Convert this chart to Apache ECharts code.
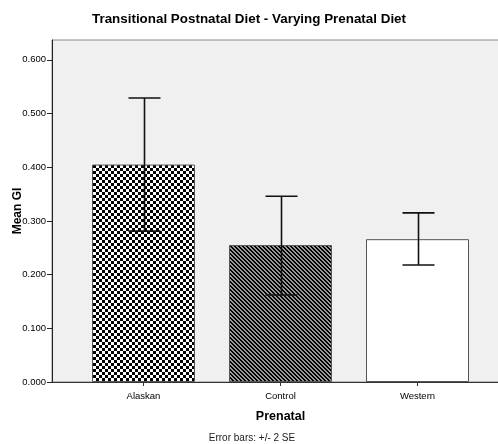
<!DOCTYPE html>
<html>
<head>
<meta charset="utf-8">
<script src="https://cdn.jsdelivr.net/npm/echarts@6/dist/echarts.min.js"></script>
<style>
html,body{margin:0;padding:0;background:#fff;}
#c{width:498px;height:444px;}
</style>
</head>
<body>
<div id="c"></div>
<script>
var categories = ['Alaskan', 'Control', 'Western'];
var meanGI = [0.405, 0.255, 0.266];
var errLow = [0.281, 0.162, 0.218];
var errHigh = [0.529, 0.346, 0.315];
var yTicks = [0, 0.1, 0.2, 0.3, 0.4, 0.5, 0.6];

function checker() {
  var c = document.createElement('canvas');
  c.width = 6; c.height = 6;
  var g = c.getContext('2d');
  g.fillStyle = '#ffffff'; g.fillRect(0, 0, 6, 6);
  g.fillStyle = '#000000';
  g.fillRect(0, 0, 3, 3); g.fillRect(3, 3, 3, 3);
  return c;
}
function diag() {
  var c = document.createElement('canvas');
  c.width = 4; c.height = 4;
  var g = c.getContext('2d');
  g.fillStyle = '#9a9a9a'; g.fillRect(0, 0, 4, 4);
  g.fillStyle = '#000000';
  for (var y = 0; y < 4; y++) {
    for (var x = 0; x < 4; x++) {
      var d = ((x - y) % 4 + 4) % 4;
      if (d === 0 || d === 1) g.fillRect(x, y, 1, 1);
    }
  }
  return c;
}
var fills = [
  {image: checker(), repeat: 'repeat'},
  {image: diag(), repeat: 'repeat'},
  '#ffffff'
];

var FONT = "'Liberation Sans', Arial, sans-serif";
var YMAX = 0.637;

var chart = echarts.init(document.getElementById('c'), null, {renderer: 'canvas'});
chart.setOption({
  animation: false,
  backgroundColor: '#ffffff',
  title: {
    text: 'Transitional Postnatal Diet - Varying Prenatal Diet',
    left: 'center',
    top: 8,
    textStyle: {fontFamily: FONT, fontSize: 13.4, fontWeight: 'bold', color: '#000'}
  },
  grid: [
    {left: 52, top: 40, width: 456, height: 342, show: true, backgroundColor: '#f0f0f0', borderColor: '#8a8a8a', borderWidth: 1,
      containLabel: false, outerBoundsMode: 'none'},
    {left: 75, top: 40, width: 411, height: 342, containLabel: false, outerBoundsMode: 'none'}
  ],
  xAxis: [
    {gridIndex: 0, type: 'value', min: 0, max: 1,
      axisLine: {show: true, lineStyle: {color: '#333', width: 1}},
      axisTick: {show: false}, axisLabel: {show: false}, splitLine: {show: false}},
    {gridIndex: 1, type: 'category', data: categories, boundaryGap: true,
      axisLine: {show: false},
      axisTick: {show: true, alignWithLabel: true, length: 4, lineStyle: {color: '#333'}},
      axisLabel: {margin: 9, fontFamily: FONT, fontSize: 9.5, color: '#000'},
      name: 'Prenatal', nameLocation: 'middle', nameGap: 28, nameMoveOverlap: false,
      nameTextStyle: {fontFamily: FONT, fontSize: 12.5, fontWeight: 'bold', color: '#000'}}
  ],
  yAxis: [
    {gridIndex: 0, type: 'value', min: 0, max: YMAX,
      axisLine: {show: true, lineStyle: {color: '#222', width: 1}},
      axisTick: {show: true, length: 5, customValues: yTicks, lineStyle: {color: '#222'}},
      axisLabel: {customValues: yTicks, margin: 6, fontFamily: FONT, fontSize: 9.5, color: '#000',
        formatter: function (v) { return Number(v).toFixed(3); }},
      splitLine: {show: false},
      name: 'Mean GI', nameLocation: 'middle', nameGap: 28, nameMoveOverlap: false,
      nameTextStyle: {fontFamily: FONT, fontSize: 12, fontWeight: 'bold', color: '#000'}},
    {gridIndex: 1, type: 'value', min: 0, max: YMAX, show: false, splitLine: {show: false}}
  ],
  series: [
    {
      type: 'bar', xAxisIndex: 1, yAxisIndex: 1, barWidth: 103,
      data: meanGI.map(function (v, i) {
        return {value: v, itemStyle: {color: fills[i], borderColor: '#555', borderWidth: 1}};
      }),
      z: 2
    },
    {
      type: 'custom', xAxisIndex: 1, yAxisIndex: 1, z: 5,
      data: categories.map(function (c, i) { return [i, errLow[i], errHigh[i]]; }),
      renderItem: function (params, api) {
        var i = api.value(0);
        var lo = api.coord([i, api.value(1)]);
        var hi = api.coord([i, api.value(2)]);
        var x = Math.round(lo[0]) + 0.5;
        var w = 16;
        var st = {stroke: '#111', lineWidth: 1.6};
        return {
          type: 'group',
          children: [
            {type: 'line', shape: {x1: x, y1: hi[1], x2: x, y2: lo[1]}, style: st},
            {type: 'line', shape: {x1: x - w, y1: hi[1], x2: x + w, y2: hi[1]}, style: st},
            {type: 'line', shape: {x1: x - w, y1: lo[1], x2: x + w, y2: lo[1]}, style: st}
          ]
        };
      }
    }
  ],
  graphic: [
    {type: 'text', x: 252, y: 438, style: {text: 'Error bars: +/- 2 SE', textAlign: 'center', textVerticalAlign: 'middle',
      fontFamily: FONT, fontSize: 10, fill: '#222'}}
  ]
});
</script>
</body>
</html>
